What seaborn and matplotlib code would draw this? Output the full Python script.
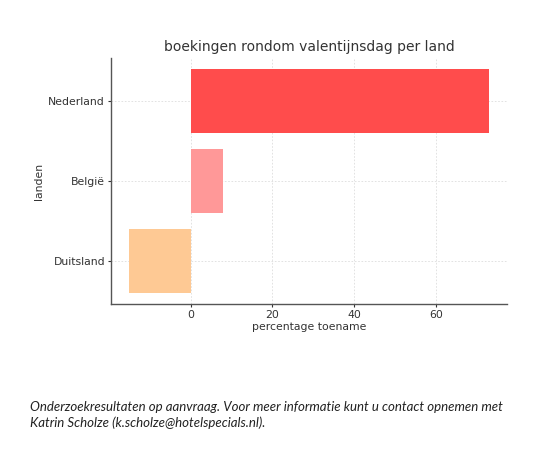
import matplotlib
matplotlib.use("Agg")
import matplotlib.pyplot as plt
import seaborn as sns
import pandas as pd

landen = ["Nederland", "België", "Duitsland"]
toename = [73, 8, -15]
kleuren = ["#ff4c4c", "#ff9898", "#fec994"]

df = pd.DataFrame({"landen": landen, "percentage toename": toename})

sns.set_style("whitegrid")
plt.rcParams['font.family'] = ['DejaVu Sans']

fig = plt.figure(figsize=(5.6, 4.54), dpi=100)
ax = fig.add_axes([0.1988, 0.3304, 0.7066, 0.542])
sns.barplot(data=df, y="landen", x="percentage toename", hue="landen",
            palette=kleuren, orient="h", ax=ax, width=0.8, legend=False,
            edgecolor="none", saturation=1)
ax.set_ylim(2.54, -0.54)

ax.set_title("boekingen rondom valentijnsdag per land", fontsize=10, color="#333333", pad=5)
ax.set_xlabel("percentage toename", fontsize=7.8, color="#333333", labelpad=1)
ax.set_ylabel("landen", fontsize=7.8, color="#333333", labelpad=3)
ax.tick_params(labelsize=7.8, colors="#333333", length=2, width=0.8, pad=2.5,
               left=True, bottom=True, direction="out")
ax.tick_params(axis="x", pad=2.5)
ax.grid(True, linestyle=(0, (2, 2)), color="#dddddd", linewidth=0.6)
for s in ["top", "right"]:
    ax.spines[s].set_visible(False)
for s in ["left", "bottom"]:
    ax.spines[s].set_color("#555555")
    ax.spines[s].set_linewidth(1.0)
ax.margins(x=0.05)

fig.text(0.054, 0.056, "Onderzoekresultaten op aanvraag. Voor meer informatie kunt u contact opnemen met\nKatrin Scholze (k.scholze@hotelspecials.nl).",
         fontsize=9.5, style="italic", family="Lato", color="#222222", linespacing=1.3, va="bottom")

fig.savefig("out.png", dpi=100)
